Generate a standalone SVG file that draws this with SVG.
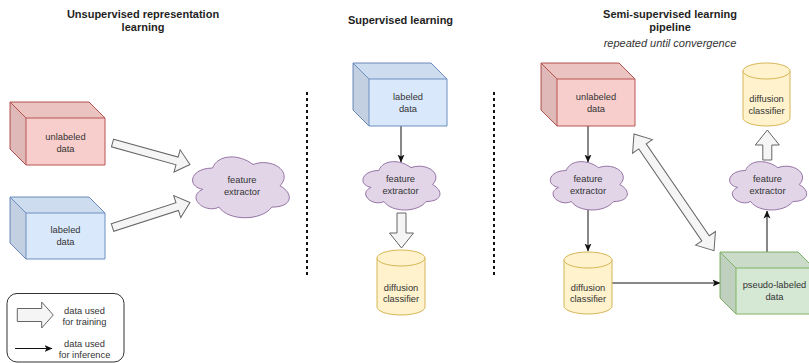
<svg xmlns="http://www.w3.org/2000/svg" width="809" height="363" viewBox="0 0 809 363">
<style>
.t{font-family:"Liberation Sans",Arial,sans-serif;font-size:9.3px;fill:#333;text-anchor:middle}
.h{font-family:"Liberation Sans",Arial,sans-serif;font-size:11px;font-weight:bold;fill:#1f1f1f;text-anchor:middle}
.i{font-family:"Liberation Sans",Arial,sans-serif;font-size:11px;font-style:italic;fill:#333;text-anchor:middle}
.red{fill:#f8cecc;stroke:#b85450}
.blue{fill:#dae8fc;stroke:#6c8ebf}
.green{fill:#d5e8d4;stroke:#82b366}
.cloud{fill:#e1d5e7;stroke:#9673a6;stroke-width:1;vector-effect:non-scaling-stroke}
.cyl{fill:#fff2cc;stroke:#d6b656}
.shade1{fill:#000;fill-opacity:0.05;stroke:none}
.shade2{fill:#000;fill-opacity:0.1;stroke:none}
.edge{fill:none}
.big{fill:#f5f5f5;stroke:#666;stroke-width:1;stroke-linejoin:miter}
.thin{fill:none;stroke:#111;stroke-width:1;marker-end:url(#ah)}
.dash{stroke:#111;stroke-width:2;stroke-dasharray:3 3;fill:none}
</style>
<defs>
<marker id="ah" viewBox="0 0 8 8" refX="7.5" refY="4" markerWidth="8" markerHeight="8" markerUnits="userSpaceOnUse" orient="auto">
<path d="M0,0.5 L8,4 L0,7.5 L2,4 Z" fill="#111"/>
</marker>
</defs>

<!-- titles -->
<g id="titles">
<text class="h" x="143" y="18">Unsupervised representation</text>
<text class="h" x="143" y="31">learning</text>
<text class="h" x="400.5" y="24">Supervised learning</text>
<text class="h" x="670" y="18">Semi-supervised learning</text>
<text class="h" x="670" y="31">pipeline</text>
<text class="i" x="670" y="47">repeated until convergence</text>
</g>

<!-- separators -->
<g id="separators">
<line class="dash" x1="307" y1="92" x2="307" y2="275"/>
<line class="dash" x1="494" y1="92" x2="494" y2="275"/>
</g>

<!-- connectors -->
<g id="connectors">
<path class="big" transform="translate(112.5,143) rotate(15.5)" d="M0,-4 L67,-4 L67,-11.5 L80.4,0 L67,11.5 L67,4 L0,4 Z"/>
<path class="big" transform="translate(112.5,227.5) rotate(-17.9)" d="M0,-4 L68,-4 L68,-11.5 L81.4,0 L68,11.5 L68,4 L0,4 Z"/>
<line class="thin" x1="401" y1="126" x2="401" y2="162"/>
<path class="big" transform="translate(401.5,213) rotate(90)" d="M0,-4.5 L20,-4.5 L20,-12 L35,0 L20,12 L20,4.5 L0,4.5 Z"/>
<line class="thin" x1="588" y1="126" x2="588" y2="162"/>
<line class="thin" x1="588" y1="210" x2="588" y2="251"/>
<line class="thin" x1="612" y1="283" x2="720" y2="283"/>
<line class="thin" x1="767" y1="252" x2="767" y2="211"/>
<path class="big" transform="translate(767.3,160) rotate(-90)" d="M0,-4.5 L15,-4.5 L15,-12 L30,0 L15,12 L15,4.5 L0,4.5 Z"/>
<path class="big" transform="translate(634,134) rotate(55.56)" d="M0,0 L15,-12 L15,-4.5 L126.5,-4.5 L126.5,-12 L141.5,0 L126.5,12 L126.5,4.5 L15,4.5 L15,12 Z"/>
</g>

<!-- left section -->
<g id="unlabeled-data-1">
<path class="red" d="M10,102 L89,102 L105,118 L105,165 L26,165 L10,149 Z"/>
<path class="shade1" d="M10,102 L89,102 L105,118 L26,118 Z"/>
<path class="shade2" d="M10,102 L26,118 L26,165 L10,149 Z"/>
<path class="red edge" d="M10,102 L26,118 L105,118 M26,118 L26,165"/>
<text class="t" x="65.5" y="140">unlabeled</text>
<text class="t" x="65.5" y="151.5">data</text>
</g>
<g id="labeled-data-1">
<path class="blue" d="M10,197 L89,197 L105,213 L105,259 L26,259 L10,243 Z"/>
<path class="shade1" d="M10,197 L89,197 L105,213 L26,213 Z"/>
<path class="shade2" d="M10,197 L26,213 L26,259 L10,243 Z"/>
<path class="blue edge" d="M10,197 L26,213 L105,213 M26,213 L26,259"/>
<text class="t" x="65.5" y="232.5">labeled</text>
<text class="t" x="65.5" y="244.5">data</text>
</g>
<g id="feature-extractor-1">
<path class="cloud" vector-effect="non-scaling-stroke" transform="translate(185.5,150.3) scale(1.08,0.71)" d="M25,25 C5,25 0,50 16,55 C0,66 18,90 31,80 C40,100 70,100 80,80 C100,80 100,60 87.5,50 C100,30 80,10 62.5,20 C50,5 30,5 25,25 Z"/>
<text class="t" x="242" y="183">feature</text>
<text class="t" x="242" y="194.5">extractor</text>
</g>

<!-- legend -->
<g id="legend">
<rect x="7" y="293.5" width="117" height="68.5" rx="10" ry="10" fill="#fff" stroke="#333" stroke-width="1"/>
<path class="big" transform="translate(17.3,315)" d="M0,-6.5 L24.4,-6.5 L24.4,-13 L36,0 L24.4,13 L24.4,6.5 L0,6.5 Z"/>
<text class="t" x="84.5" y="313.5">data used</text>
<text class="t" x="84.5" y="324.5">for training</text>
<line class="thin" x1="15" y1="348.5" x2="52" y2="348.5"/>
<text class="t" x="84.5" y="346.5">data used</text>
<text class="t" x="84.5" y="358">for inference</text>
</g>

<!-- middle section -->
<g id="labeled-data-2">
<path class="blue" d="M353,63 L431,63 L447,79 L447,126 L369,126 L353,110 Z"/>
<path class="shade1" d="M353,63 L431,63 L447,79 L369,79 Z"/>
<path class="shade2" d="M353,63 L369,79 L369,126 L353,110 Z"/>
<path class="blue edge" d="M353,63 L369,79 L447,79 M369,79 L369,126"/>
<text class="t" x="408" y="100">labeled</text>
<text class="t" x="408" y="111.5">data</text>
</g>
<g id="feature-extractor-2">
<path class="cloud" vector-effect="non-scaling-stroke" transform="translate(357.3,156.4) scale(0.86,0.564)" d="M25,25 C5,25 0,50 16,55 C0,66 18,90 31,80 C40,100 70,100 80,80 C100,80 100,60 87.5,50 C100,30 80,10 62.5,20 C50,5 30,5 25,25 Z"/>
<text class="t" x="400.5" y="181.5">feature</text>
<text class="t" x="400.5" y="193.5">extractor</text>
</g>
<g id="diffusion-classifier-2">
<path class="cyl" d="M377,258 A24,8 0 0 1 425,258 L425,307 A24,8 0 0 1 377,307 Z"/>
<path class="cyl" fill="none" d="M377,258 A24,8 0 0 0 425,258"/>
<text class="t" x="401" y="290.5">diffusion</text>
<text class="t" x="401" y="302">classifier</text>
</g>

<!-- right section -->
<g id="unlabeled-data-3">
<path class="red" d="M541,63 L619,63 L635,79 L635,126 L557,126 L541,110 Z"/>
<path class="shade1" d="M541,63 L619,63 L635,79 L557,79 Z"/>
<path class="shade2" d="M541,63 L557,79 L557,126 L541,110 Z"/>
<path class="red edge" d="M541,63 L557,79 L635,79 M557,79 L557,126"/>
<text class="t" x="596" y="100">unlabeled</text>
<text class="t" x="596" y="111.5">data</text>
</g>
<g id="feature-extractor-3">
<path class="cloud" vector-effect="non-scaling-stroke" transform="translate(544.7,156.4) scale(0.86,0.564)" d="M25,25 C5,25 0,50 16,55 C0,66 18,90 31,80 C40,100 70,100 80,80 C100,80 100,60 87.5,50 C100,30 80,10 62.5,20 C50,5 30,5 25,25 Z"/>
<text class="t" x="588" y="181.5">feature</text>
<text class="t" x="588" y="193.5">extractor</text>
</g>
<g id="diffusion-classifier-3">
<path class="cyl" d="M564,260 A24,8 0 0 1 612,260 L612,306 A24,8 0 0 1 564,306 Z"/>
<path class="cyl" fill="none" d="M564,260 A24,8 0 0 0 612,260"/>
<text class="t" x="588" y="290.5">diffusion</text>
<text class="t" x="588" y="302">classifier</text>
</g>
<g id="pseudo-labeled-data">
<path class="green" d="M720,252 L798,252 L814,268 L814,314 L736,314 L720,298 Z"/>
<path class="shade1" d="M720,252 L798,252 L814,268 L736,268 Z"/>
<path class="shade2" d="M720,252 L736,268 L736,314 L720,298 Z"/>
<path class="green edge" d="M720,252 L736,268 L814,268 M736,268 L736,314"/>
<text class="t" x="774.5" y="288">pseudo-labeled</text>
<text class="t" x="774.5" y="299.5">data</text>
</g>
<g id="feature-extractor-4">
<path class="cloud" vector-effect="non-scaling-stroke" transform="translate(724,156.4) scale(0.86,0.564)" d="M25,25 C5,25 0,50 16,55 C0,66 18,90 31,80 C40,100 70,100 80,80 C100,80 100,60 87.5,50 C100,30 80,10 62.5,20 C50,5 30,5 25,25 Z"/>
<text class="t" x="767.5" y="181.5">feature</text>
<text class="t" x="767.5" y="193.5">extractor</text>
</g>
<g id="diffusion-classifier-4">
<path class="cyl" d="M743,71 A23.5,8 0 0 1 790,71 L790,118 A23.5,8 0 0 1 743,118 Z"/>
<path class="cyl" fill="none" d="M743,71 A23.5,8 0 0 0 790,71"/>
<text class="t" x="766.5" y="102">diffusion</text>
<text class="t" x="766.5" y="113.5">classifier</text>
</g>
</svg>
